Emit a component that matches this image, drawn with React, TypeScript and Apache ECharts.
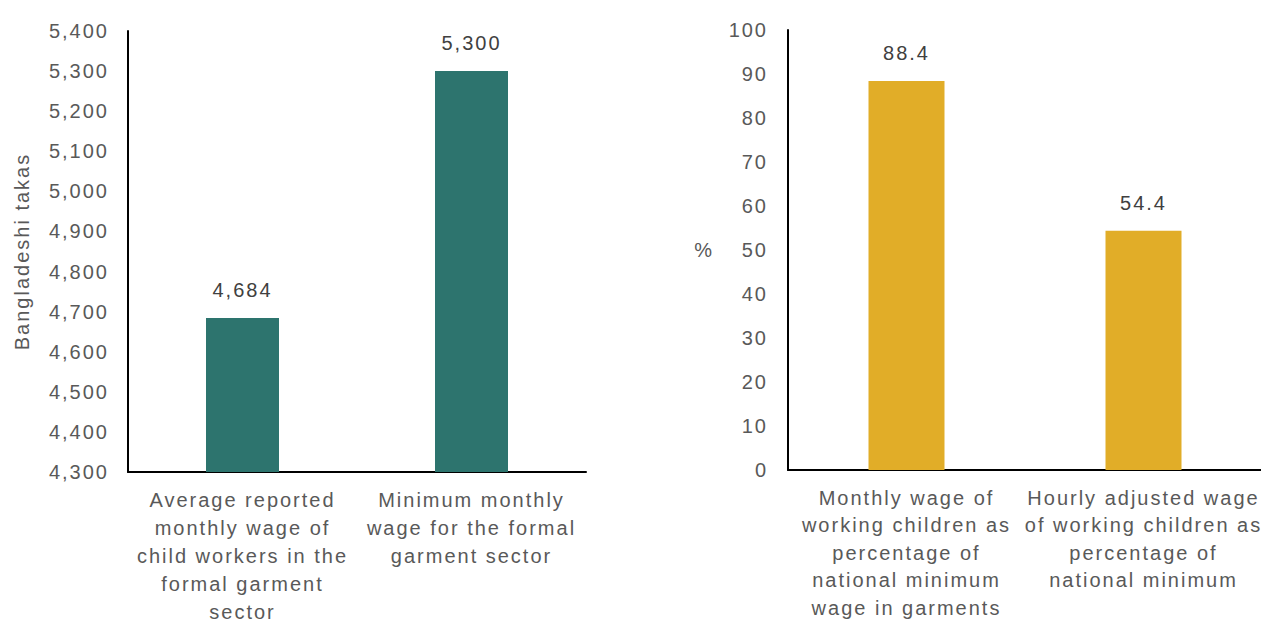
import React, { useEffect, useRef } from "react";
import * as echarts from "echarts";

const leftCategories = [
  "Average reported\nmonthly wage of\nchild workers in the\nformal garment\nsector",
  "Minimum monthly\nwage for the formal\ngarment sector",
];
const leftValues = [4684, 5300];
const rightCategories = [
  "Monthly wage of\nworking children as\npercentage of\nnational minimum\nwage in garments",
  "Hourly adjusted wage\nof working children as\npercentage of\nnational minimum",
];
const rightValues = [88.4, 54.4];

const FONT = "'Liberation Sans', Arial, sans-serif";
const TICK_COLOR = "#595959";
const LABEL_COLOR = "#404040";
const FS = 20;

export default function App() {
  const ref = useRef<HTMLDivElement>(null);
  useEffect(() => {
    if (!ref.current) return;
    const chart = echarts.init(ref.current, null, { renderer: "svg" });
    const fmt = (v: number) => v.toLocaleString("en-US");
    const axisLine = { show: true, lineStyle: { color: "#000", width: 2 } };
    chart.setOption({
      animation: false,
      textStyle: { fontFamily: FONT },
      grid: [
        { left: 128, top: 31, width: 458, height: 441, outerBoundsMode: "none", containLabel: false },
        { left: 788, top: 30, width: 474, height: 440, outerBoundsMode: "none", containLabel: false },
      ],
      xAxis: [
        {
          type: "category",
          gridIndex: 0,
          data: leftCategories,
          axisLine,
          axisTick: { show: false },
          axisLabel: {
            color: TICK_COLOR,
            fontSize: FS,
            lineHeight: 28,
            margin: 14,
            interval: 0,
            fontFamily: FONT,
          },
        },
        {
          type: "category",
          gridIndex: 1,
          data: rightCategories,
          axisLine,
          axisTick: { show: false },
          axisLabel: {
            color: TICK_COLOR,
            fontSize: FS,
            lineHeight: 27.5,
            margin: 14,
            interval: 0,
            fontFamily: FONT,
          },
        },
      ],
      yAxis: [
        {
          type: "value",
          gridIndex: 0,
          min: 4300,
          max: 5400,
          interval: 100,
          axisLine,
          axisTick: { show: false },
          splitLine: { show: false },
          axisLabel: {
            color: TICK_COLOR,
            fontSize: FS,
            margin: 19,
            formatter: (v: number) => fmt(v),
            fontFamily: FONT,
          },
          name: "Bangladeshi takas",
          nameLocation: "middle",
          nameGap: 96,
          nameMoveOverlap: false,
          nameTextStyle: { color: TICK_COLOR, fontSize: FS, fontFamily: FONT },
        },
        {
          type: "value",
          gridIndex: 1,
          min: 0,
          max: 100,
          interval: 10,
          axisLine,
          axisTick: { show: false },
          splitLine: { show: false },
          axisLabel: {
            color: TICK_COLOR,
            fontSize: FS,
            margin: 20,
            fontFamily: FONT,
          },
          name: "%",
          nameLocation: "middle",
          nameGap: 74,
          nameRotate: 0,
          nameMoveOverlap: false,
          nameTextStyle: { color: TICK_COLOR, fontSize: FS, fontFamily: FONT },
        },
      ],
      series: [
        {
          type: "bar",
          xAxisIndex: 0,
          yAxisIndex: 0,
          data: leftValues,
          barWidth: 73,
          itemStyle: { color: "#2D746E" },
          label: {
            show: true,
            position: "top",
            distance: 18,
            color: LABEL_COLOR,
            fontSize: FS,
            fontFamily: FONT,
            formatter: (p: any) => fmt(p.value),
          },
        },
        {
          type: "bar",
          xAxisIndex: 1,
          yAxisIndex: 1,
          data: rightValues,
          barWidth: 76,
          itemStyle: { color: "#E1AD28" },
          label: {
            show: true,
            position: "top",
            distance: 18,
            color: LABEL_COLOR,
            fontSize: FS,
            fontFamily: FONT,
            formatter: (p: any) => p.value.toFixed(1),
          },
        },
      ],
    });
    return () => chart.dispose();
  }, []);
  return (
    <div
      ref={ref}
      style={{
        position: "fixed",
        left: 0,
        top: 0,
        width: 1261,
        height: 626,
        letterSpacing: "2px",
        background: "#fff",
      }}
    />
  );
}
